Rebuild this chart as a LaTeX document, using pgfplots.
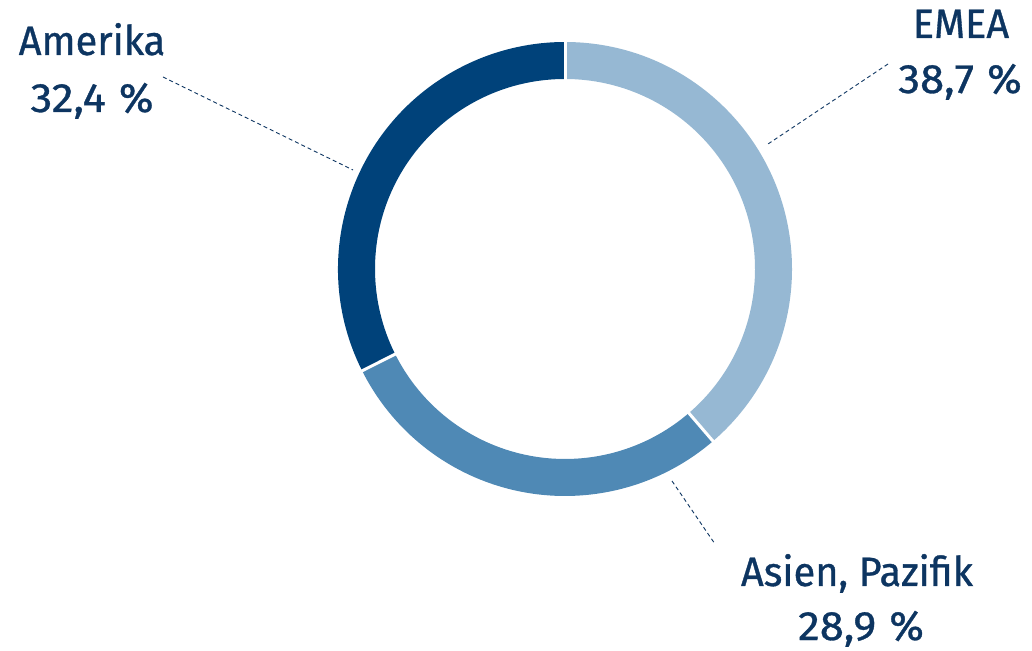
\documentclass[border=0pt]{standalone}
\usepackage{pgfplots}
\pgfplotsset{compat=1.18}
\usepackage{graphicx}
\usepackage{fontspec}
\setmainfont{Fira Sans}[FakeStretch=0.97,FakeBold=0.8]
\definecolor{txt}{HTML}{0D3561}
\definecolor{cEMEA}{HTML}{96B8D3}
\definecolor{cAsien}{HTML}{4F89B5}
\definecolor{cAmerika}{HTML}{00427A}
% shares in percent
\def\pEMEA{38.7}
\def\pAsien{28.9}
\def\pAmerika{32.4}
\pgfmathsetmacro\aA{90}
\pgfmathsetmacro\aB{90-3.6*\pEMEA}
\pgfmathsetmacro\aC{\aB-3.6*\pAsien}
\pgfmathsetmacro\aD{\aC-3.6*\pAmerika}
\def\Ro{227}\def\Ri{190}
\newcommand\pct[1]{\scalebox{1.1}[1]{#1}\hspace{0.32em}\scalebox{1.05}[1]{\%}}
\begin{document}
\begin{tikzpicture}
\begin{axis}[x=1pt,y=1pt,xmin=0,xmax=1032,ymin=0,ymax=650,hide axis,clip=false,anchor=origin,at={(0,0)}]
\fill[cEMEA] (axis cs:565,381) ++(\aA:\Ro) arc[start angle=\aA,end angle=\aB,radius=\Ro] -- ++(\aB:-37) arc[start angle=\aB,end angle=\aA,radius=\Ri] -- cycle;
\fill[cAsien] (axis cs:565,381) ++(\aB:\Ro) arc[start angle=\aB,end angle=\aC,radius=\Ro] -- ++(\aC:-37) arc[start angle=\aC,end angle=\aB,radius=\Ri] -- cycle;
\fill[cAmerika] (axis cs:565,381) ++(\aC:\Ro) arc[start angle=\aC,end angle=\aD,radius=\Ro] -- ++(\aD:-37) arc[start angle=\aD,end angle=\aC,radius=\Ri] -- cycle;
\draw[white,line width=3pt] (axis cs:565,381) ++(\aA:185) -- ++(\aA:47);
\draw[white,line width=3pt] (axis cs:565,381) ++(\aB:185) -- ++(\aB:47);
\draw[white,line width=3pt] (axis cs:565,381) ++(\aC:185) -- ++(\aC:47);
\draw[txt,line width=0.9pt,dash pattern=on 4pt off 3pt] (axis cs:163,573) -- (axis cs:353,480);
\draw[txt,line width=0.9pt,dash pattern=on 4pt off 3pt] (axis cs:888,586) -- (axis cs:768,506);
\draw[txt,line width=0.9pt,dash pattern=on 4pt off 3pt] (axis cs:672,169) -- (axis cs:715,106);
\node[anchor=base,text=txt,inner sep=0pt,font=\fontsize{41}{44}\selectfont] at (axis cs:92,595) {Amerika};
\node[anchor=base,text=txt,inner sep=0pt,font=\fontsize{41}{44}\selectfont] at (axis cs:92,538) {\pct{32,4}};
\node[anchor=base,text=txt,inner sep=0pt,font=\fontsize{41}{44}\selectfont] at (axis cs:961,612) {EMEA};
\node[anchor=base,text=txt,inner sep=0pt,font=\fontsize{41}{44}\selectfont] at (axis cs:960,557) {\pct{38,7}};
\node[anchor=base,text=txt,inner sep=0pt,font=\fontsize{41}{44}\selectfont] at (axis cs:857,64) {Asien, Pazifik};
\node[anchor=base,text=txt,inner sep=0pt,font=\fontsize{41}{44}\selectfont] at (axis cs:861,10) {\pct{28,9}};
\end{axis}
\pgfresetboundingbox
\path (0,0) rectangle (1032pt,650pt);
\end{tikzpicture}
\end{document}
